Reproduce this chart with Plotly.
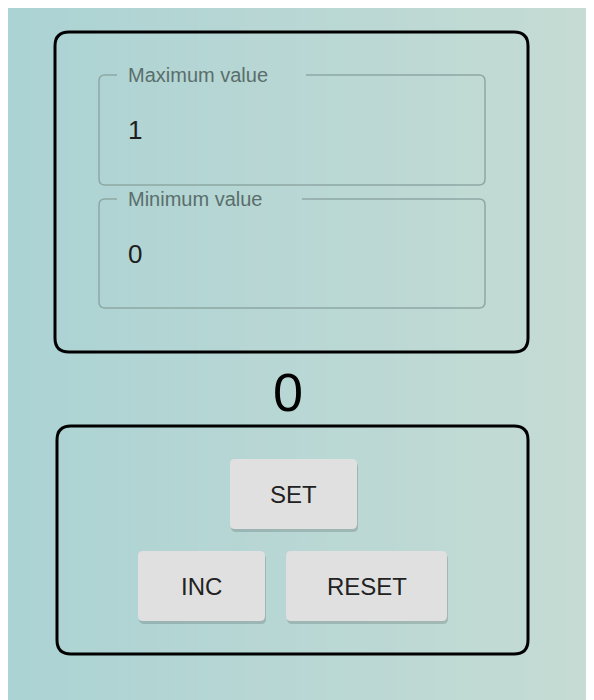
import plotly.graph_objects as go

field_labels = ["Maximum value", "Minimum value"]
field_values = ["1", "0"]
counter_value = "0"
button_labels = ["SET", "INC", "RESET"]

W, H = 594, 700
OFF = 8  # page body margin
FONT = "Liberation Sans, Arial, sans-serif"
fig = go.Figure()
shapes = []

c0 = (172, 211, 213); c1 = (198, 220, 212)
N = 60
for i in range(N):
    t = i / (N - 1)
    c = tuple(int(c0[k] + (c1[k] - c0[k]) * t) for k in range(3))
    shapes.append(dict(type="rect", x0=W * i / N, x1=W * (i + 1) / N + 1, y0=0, y1=H + 20,
                       line=dict(width=0), fillcolor="rgb(%d,%d,%d)" % c, layer="below"))

def rr(x0, y0, x1, y1, r):
    return (f"M{x0+r},{y0} L{x1-r},{y0} Q{x1},{y0} {x1},{y0+r} L{x1},{y1-r} Q{x1},{y1} {x1-r},{y1} "
            f"L{x0+r},{y1} Q{x0},{y1} {x0},{y1-r} L{x0},{y0+r} Q{x0},{y0} {x0+r},{y0} Z")

def rr_gap(x0, y0, x1, y1, r, g0, g1):
    return (f"M{g1},{y0} L{x1-r},{y0} Q{x1},{y0} {x1},{y0+r} L{x1},{y1-r} Q{x1},{y1} {x1-r},{y1} "
            f"L{x0+r},{y1} Q{x0},{y1} {x0},{y1-r} L{x0},{y0+r} Q{x0},{y0} {x0+r},{y0} L{g0},{y0}")

shapes.append(dict(type="path", path=rr(55, 32, 528, 352, 14), line=dict(color="black", width=3)))
shapes.append(dict(type="path", path=rr(57, 426, 528, 654, 14), line=dict(color="black", width=3)))

anns = []
field_y = [(75, 185), (199, 308)]
gaps = [(117, 306), (117, 302)]
for (y0, y1), (g0, g1), lab, val in zip(field_y, gaps, field_labels, field_values):
    shapes.append(dict(type="path", path=rr_gap(99, y0, 485, y1, 6, g0, g1),
                       line=dict(color="#8da8a4", width=1.5)))
    anns.append(dict(x=126, y=y0, text=lab, showarrow=False, xanchor="left", yanchor="middle",
                     font=dict(size=20, color="#5a6e6b", family=FONT)))
    anns.append(dict(x=126, y=(y0 + y1) / 2, text=val, showarrow=False, xanchor="left", yanchor="middle",
                     font=dict(size=26, color="#1e1e1e", family=FONT)))

anns.append(dict(x=288, y=392, text=counter_value, showarrow=False, yanchor="middle",
                 font=dict(size=54, color="black", family=FONT)))

buttons = [(230, 459, 357, 529), (138, 551, 265, 621), (286, 551, 447, 621)]
for (x0, y0, x1, y1), lab in zip(buttons, button_labels):
    shapes.append(dict(type="path", path=rr(x0 + 1, y0 + 3, x1 + 1, y1 + 3, 5),
                       line=dict(width=0), fillcolor="rgba(0,0,0,0.15)"))
    shapes.append(dict(type="path", path=rr(x0, y0, x1, y1, 5),
                       line=dict(width=0), fillcolor="#e0e0e0"))
    anns.append(dict(x=(x0 + x1) / 2, y=(y0 + y1) / 2, text=lab, showarrow=False, yanchor="middle",
                     font=dict(size=24, color="#222222", family=FONT)))

fig.update_layout(width=W, height=H, margin=dict(l=0, r=0, t=0, b=0),
                  paper_bgcolor="#bcd8d3", plot_bgcolor="rgba(0,0,0,0)",
                  shapes=shapes, annotations=anns, showlegend=False,
                  xaxis=dict(range=[OFF, W + OFF], visible=False, fixedrange=True),
                  yaxis=dict(range=[H + OFF, OFF], visible=False, fixedrange=True))
fig.write_html("out.html", config={"displayModeBar": False})
